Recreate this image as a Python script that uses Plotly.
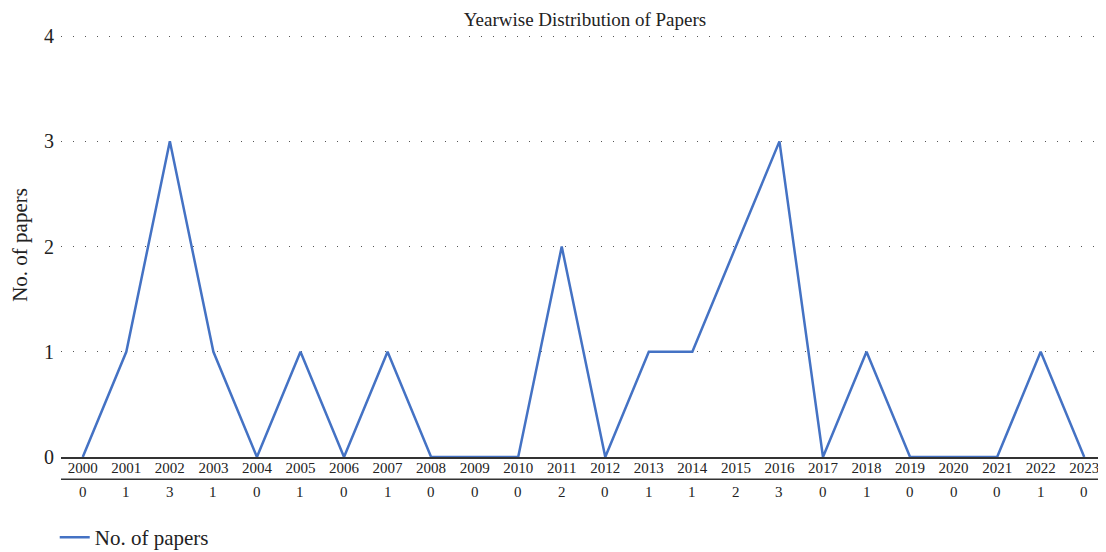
import plotly.graph_objects as go

years = [str(y) for y in range(2000, 2024)]
papers = [0, 1, 3, 1, 0, 1, 0, 1, 0, 0, 0, 2, 0, 1, 1, 2, 3, 0, 1, 0, 0, 0, 1, 0]
series_name = "No. of papers"
title_text = "Yearwise Distribution of Papers"
y_ticks = [0, 1, 2, 3, 4]

FONT = "Liberation Serif"
LINE_COLOR = "#4472C4"

fig = go.Figure()
fig.add_trace(go.Scatter(
    x=years, y=papers, mode="lines", name=series_name,
    line=dict(color=LINE_COLOR, width=2.5),
))

# data table row under the axis (category index positions)
for i, v in enumerate(papers):
    fig.add_annotation(
        x=i, y=-0.083, xref="x", yref="paper", text=str(v), showarrow=False,
        font=dict(family=FONT, size=15, color="#222"), yanchor="middle",
    )

fig.add_shape(type="line", xref="paper", yref="paper", x0=0, x1=1,
              y0=-0.0522, y1=-0.0522, line=dict(color="#333", width=1.5))

fig.update_layout(
    width=1098, height=544,
    margin=dict(l=53, r=0, t=25, b=95, autoexpand=False),
    paper_bgcolor="white", plot_bgcolor="white",
    font=dict(family=FONT, color="#222"),
    title=dict(text=title_text, x=0.5255, xanchor="center", y=0.9785, yanchor="middle",
               font=dict(family=FONT, size=19, color="#222")),
    showlegend=True,
    legend=dict(orientation="h", x=-0.006, y=-0.19, xanchor="left", yanchor="middle",
                font=dict(family=FONT, size=21, color="#222"), bgcolor="rgba(0,0,0,0)"),
    xaxis=dict(type="category", range=[-0.5, 23.5], showgrid=False, zeroline=False,
               showline=True, linecolor="#333", linewidth=1.5, ticks="",
               ticklabelstandoff=-4,
               tickfont=dict(family=FONT, size=15, color="#222")),
    yaxis=dict(range=[0, 4.03], tickvals=y_ticks, showgrid=True, gridcolor="#555",
               griddash="1px,11px", gridwidth=1, zeroline=False, showline=False,
               ticks="", ticklabelstandoff=6,
               tickfont=dict(family=FONT, size=20, color="#222"),
               title=dict(text=series_name, font=dict(family=FONT, size=21, color="#222"),
                          standoff=12)),
)

fig.write_html("out.html")
